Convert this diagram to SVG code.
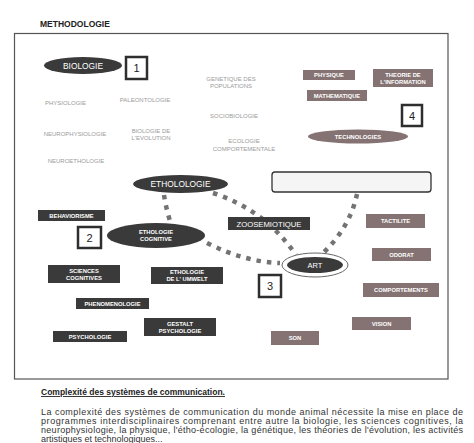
<svg xmlns="http://www.w3.org/2000/svg" width="474" height="443" viewBox="0 0 474 443">
<style>
text{font-family:"Liberation Sans",Arial,sans-serif}
.lt{font-size:6px;fill:#9a9a9a;text-anchor:middle}
.dk{fill:#3a3a3a}
.rg{fill:#857272}
.wt{font-size:5.8px;font-weight:bold;fill:#ffffff;text-anchor:middle}
.big{fill:#ffffff;text-anchor:middle}
.num{fill:#ffffff;stroke:#2e2e2e;stroke-width:2.5}
.numt{font-size:11px;fill:#222;text-anchor:middle}
.dot{fill:none;stroke:#737373;stroke-width:4.5;stroke-dasharray:4.5 6}
.para{font-size:9px;fill:#333}
</style>
<rect width="474" height="443" fill="#ffffff"/>
<text x="40" y="27" font-size="8.5" font-weight="bold" fill="#222">METHODOLOGIE</text>
<rect x="14.5" y="33.5" width="433.5" height="345.5" fill="none" stroke="#555" stroke-width="1.2"/>

<g id="connectors">
<path class="dot" d="M213,193 Q265,210 296,255"/>
<path class="dot" d="M164,195 Q166,208 170,221"/>
<path class="dot" d="M207,243 Q245,262 280,263"/>
<path class="dot" d="M357,194 Q350,228 321,255"/>
</g>

<g id="labels-biologie">
<text class="lt" x="65.5" y="105">PHYSIOLOGIE</text>
<text class="lt" x="145" y="102">PALEONTOLOGIE</text>
<text class="lt" x="231" y="81">GENETIQUE DES</text>
<text class="lt" x="231" y="88">POPULATIONS</text>
<text class="lt" x="234" y="118">SOCIOBIOLOGIE</text>
<text class="lt" x="244" y="143">ECOLOGIE</text>
<text class="lt" x="244" y="151">COMPORTEMENTALE</text>
<text class="lt" x="75" y="136">NEUROPHYSIOLOGIE</text>
<text class="lt" x="151" y="133">BIOLOGIE DE</text>
<text class="lt" x="151" y="140">L'EVOLUTION</text>
<text class="lt" x="76" y="163">NEUROETHOLOGIE</text>
</g>

<g id="biologie"><ellipse class="dk" cx="83" cy="65.5" rx="39" ry="8.5"/><text class="big" x="83" y="69" font-size="8.4">BIOLOGIE</text></g>
<g id="n1"><rect class="num" x="126" y="57" width="21" height="22"/><text class="numt" x="136.5" y="72">1</text></g>

<g id="physique"><rect class="rg" x="303" y="70" width="52" height="10"/><text class="wt" x="329" y="77">PHYSIQUE</text></g>
<g id="theorie"><rect class="rg" x="373" y="69" width="60" height="18"/><text class="wt" x="403" y="76.5">THEORIE DE</text><text class="wt" x="403" y="83.5">L'INFORMATION</text></g>
<g id="mathematique"><rect class="rg" x="307" y="90" width="60" height="11"/><text class="wt" x="337" y="97.5">MATHEMATIQUE</text></g>
<g id="n4"><rect class="num" x="402" y="105" width="20" height="21"/><text class="numt" x="412" y="119.5">4</text></g>
<g id="technologies"><ellipse class="rg" cx="358" cy="136.5" rx="50" ry="7"/><text class="wt" x="358" y="139">TECHNOLOGIES</text></g>

<g id="ethologie"><ellipse class="dk" cx="180.5" cy="184" rx="47.5" ry="9"/><text class="big" x="180.5" y="187" font-size="8.4">ETHOLOLOGIE</text></g>
<g id="whitebox"><rect x="272" y="172" width="159" height="20" rx="3" fill="#f5f5f5" stroke="#333" stroke-width="1.3"/></g>
<g id="behaviorisme"><rect class="dk" x="38" y="210" width="67" height="11"/><text class="wt" x="71.5" y="217.5">BEHAVIORISME</text></g>
<g id="zoosemiotique"><rect class="dk" x="228" y="217" width="82" height="13"/><text class="big" x="269" y="227" font-size="7.7">ZOOSEMIOTIQUE</text></g>
<g id="tactilite"><rect class="rg" x="366" y="214" width="59" height="14"/><text class="wt" x="395.5" y="223">TACTILITE</text></g>
<g id="n2"><rect class="num" x="78" y="227" width="23" height="21"/><text class="numt" x="89.5" y="241.5">2</text></g>
<g id="ethocog"><ellipse class="dk" cx="156" cy="235.5" rx="49" ry="12.5"/><text class="wt" x="156" y="233.5">ETHOLOGIE</text><text class="wt" x="156" y="240.5">COGNITIVE</text></g>
<g id="odorat"><rect class="rg" x="372" y="248" width="59" height="13"/><text class="wt" x="401.5" y="256.5">ODORAT</text></g>
<g id="art"><ellipse cx="315" cy="265" rx="33" ry="12" fill="#fff" stroke="#666" stroke-width="1"/><ellipse class="dk" cx="315" cy="265" rx="28" ry="8"/><text class="big" x="315" y="268" font-size="7.5">ART</text></g>
<g id="sciences"><rect class="dk" x="48" y="265" width="72" height="18"/><text class="wt" x="84" y="272.5">SCIENCES</text><text class="wt" x="84" y="279.5">COGNITIVES</text></g>
<g id="umwelt"><rect class="dk" x="151" y="267" width="72" height="17"/><text class="wt" x="187" y="274">ETHOLOGIE</text><text class="wt" x="187" y="281">DE L' UMWELT</text></g>
<g id="n3"><rect class="num" x="259" y="275" width="22" height="22"/><text class="numt" x="270" y="290">3</text></g>
<g id="comportements"><rect class="rg" x="363" y="283" width="76" height="14"/><text class="wt" x="401" y="292">COMPORTEMENTS</text></g>
<g id="phenomenologie"><rect class="dk" x="76" y="298" width="73" height="11"/><text class="wt" x="112.5" y="305.5">PHENOMENOLOGIE</text></g>
<g id="vision"><rect class="rg" x="352" y="317" width="59" height="13"/><text class="wt" x="381.5" y="325.5">VISION</text></g>
<g id="gestalt"><rect class="dk" x="144" y="318" width="72" height="18"/><text class="wt" x="180" y="325.5">GESTALT</text><text class="wt" x="180" y="332.5">PSYCHOLOGIE</text></g>
<g id="son"><rect class="rg" x="271" y="331" width="48" height="14"/><text class="wt" x="295" y="340">SON</text></g>
<g id="psychologie"><rect class="dk" x="53" y="331" width="74" height="11"/><text class="wt" x="90" y="338.5">PSYCHOLOGIE</text></g>

<text x="41" y="395" font-size="9" font-weight="bold" fill="#222" text-decoration="underline" textLength="184" lengthAdjust="spacingAndGlyphs">Complexité des systèmes de communication.</text>
<text class="para" x="41" y="415" textLength="422" lengthAdjust="spacing">La complexité des systèmes de communication du monde animal nécessite la mise en place de</text>
<text class="para" x="41" y="424" textLength="422" lengthAdjust="spacing">programmes interdisciplinaires comprenant entre autre la biologie, les sciences cognitives, la</text>
<text class="para" x="41" y="433" textLength="422" lengthAdjust="spacing">neurophysiologie, la physique, l'étho-écologie, la génétique, les théories de l'évolution, les activités</text>
<text class="para" x="41" y="442">artistiques et technologiques...</text>
</svg>
